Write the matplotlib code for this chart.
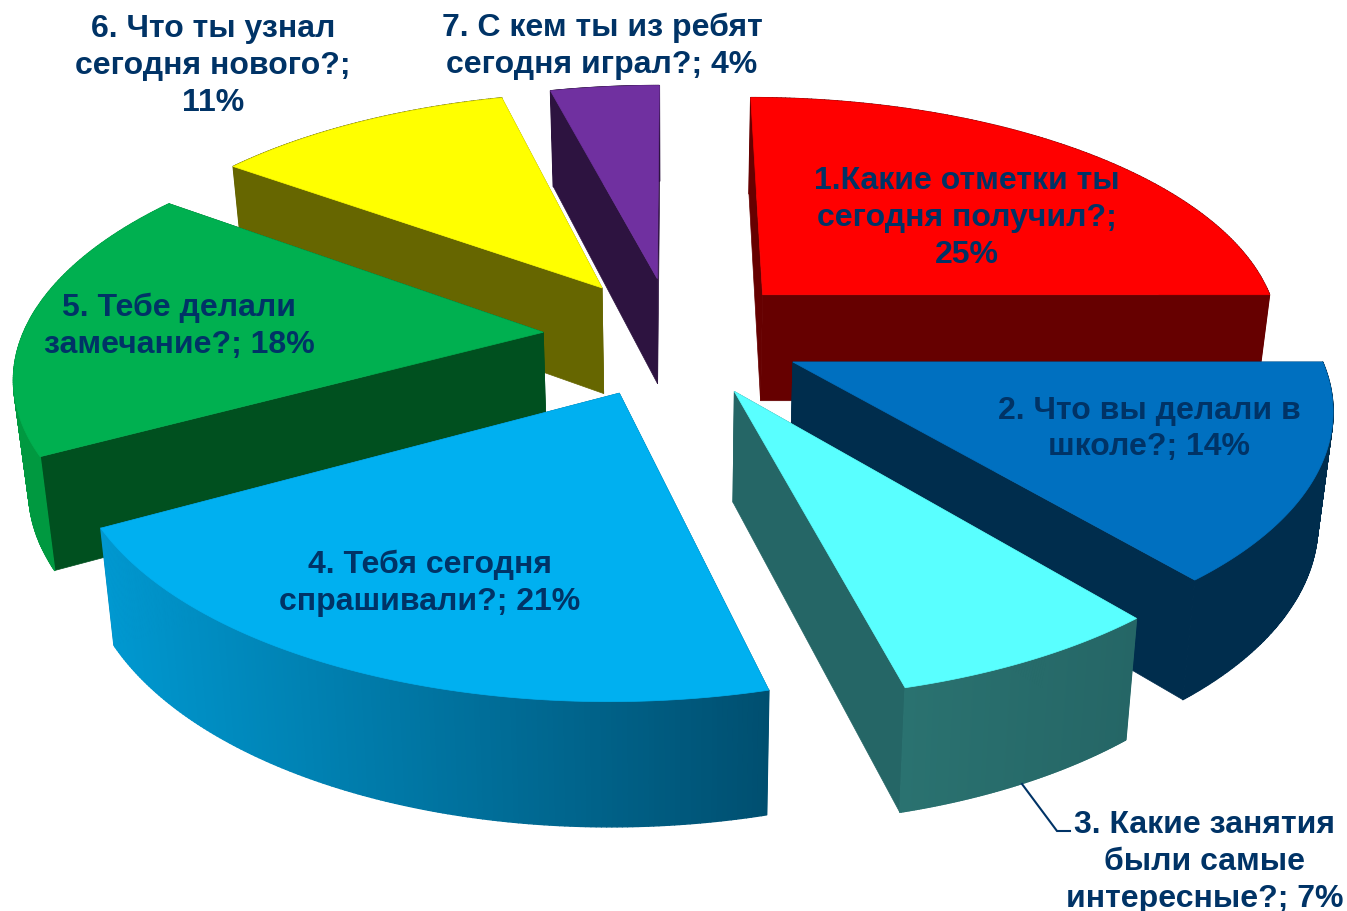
import numpy as np
import matplotlib
matplotlib.use("Agg")
import matplotlib.pyplot as plt
from matplotlib.colors import to_rgb
from matplotlib.collections import PolyCollection

# ---- data ----
values = [25, 14, 7, 21, 18, 11, 4]
labels = [
    "1.Какие отметки ты\nсегодня получил?;\n25%",
    "2. Что вы делали в\nшколе?; 14%",
    "3. Какие занятия\nбыли самые\nинтересные?; 7%",
    "4. Тебя сегодня\nспрашивали?; 21%",
    "5. Тебе делали\nзамечание?; 18%",
    "6. Что ты узнал\nсегодня нового?;\n11%",
    "7. С кем ты из ребят\nсегодня играл?; 4%",
]
top_colors = ["#ff0000", "#0070c0", "#59ffff", "#00b0f0", "#00b050", "#ffff00", "#7030a0"]
side_colors = ["#660000", "#002d4d", "#256666", "#004f70", "#00501f", "#666600", "#2d1340"]
rim_left = ["#660000", "#002d4d", "#2a7270", "#0098d0", "#009940", "#666600", "#2d1340"]
rim_right = ["#660000", "#002d4d", "#256666", "#004f70", "#009940", "#666600", "#2d1340"]
label_pos = [(967, 218), (1149, 429), (1205, 862), (430, 583), (179, 326), (213, 66), (602, 46)]
draw_order = [6, 5, 0, 4, 1, 2, 3]

# ---- projection of the tilted pie ----
W, H = 1347, 912
CX, CY, AX, BY, K, EXPLODE, DEPTH, SHRINK = 673, 337, 521, 240, 0.157, 0.25, 108, 0.977
TEXT = "#003366"


def project(x, y):
    w = 1 + K * y
    return CX + AX * x / w, CY - BY * y / w, w


def lower(sx, sy, w):
    return CX + (sx - CX) * SHRINK, sy + DEPTH * w ** -0.69


fig = plt.figure(figsize=(W / 100, H / 100), dpi=100, facecolor="white")
ax = fig.add_axes([0, 0, 1, 1])
ax.set_xlim(0, W)
ax.set_ylim(H, 0)
ax.axis("off")

total = sum(values)
edges = 90 - 360 * np.cumsum([0] + values) / total

for i in draw_order:
    a0, a1 = edges[i], edges[i + 1]
    mid = np.radians((a0 + a1) / 2)
    ox, oy = EXPLODE * np.cos(mid), EXPLODE * np.sin(mid)
    t = np.radians(np.linspace(a0, a1, 160))
    rx, ry, rw = project(ox + np.cos(t), oy + np.sin(t))
    px, py, pw = project(ox, oy)
    bx, by = lower(rx, ry, rw)
    qx, qy = lower(px, py, pw)

    # radial walls
    for k in (0, -1):
        ax.fill([px, rx[k], bx[k], qx], [py, ry[k], by[k], qy],
                color=side_colors[i], lw=0.5)

    # outer curved wall, shaded from left to right
    c0, c1 = np.array(to_rgb(rim_left[i])), np.array(to_rgb(rim_right[i]))
    xmin, xmax = rx.min(), rx.max()
    polys, cols = [], []
    for j in range(len(t) - 1):
        polys.append([(rx[j], ry[j]), (rx[j + 1], ry[j + 1]), (bx[j + 1], by[j + 1]), (bx[j], by[j])])
        f = ((rx[j] + rx[j + 1]) / 2 - xmin) / max(xmax - xmin, 1)
        cols.append(c0 + (c1 - c0) * f)
    ax.add_collection(PolyCollection(polys, facecolors=cols, edgecolors=cols, linewidths=1.0))

    # top face
    ax.fill(np.r_[px, rx], np.r_[py, ry], color=top_colors[i], lw=0.5)

# leader line of the third label
ax.plot([1022, 1057, 1070], [785, 832, 832], color=TEXT, lw=1.5, solid_joinstyle="miter")

for lab, (lx, ly) in zip(labels, label_pos):
    ax.text(lx, ly, lab, ha="center", va="center", multialignment="center",
            fontsize=23, fontweight="bold", family="Liberation Sans",
            color=TEXT, linespacing=1.3)

fig.savefig("out.png", dpi=100, facecolor="white")
